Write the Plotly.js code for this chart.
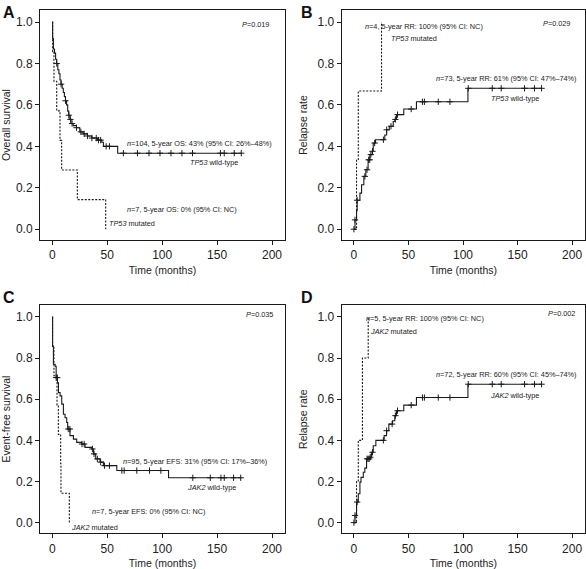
<!DOCTYPE html>
<html>
<head>
<meta charset="utf-8">
<script src="https://cdn.plot.ly/plotly-3.0.1.min.js"></script>
<style>html,body{margin:0;padding:0;background:#fff;}#chart{width:586px;height:569px;}</style>
</head>
<body>
<div id="chart"></div>
<script>
// ---------- DATA ----------
// Panel A: overall survival by TP53
const aWildTime = [0, 0.3, 1, 2, 3, 4, 5, 6, 7, 8, 9, 10, 11, 12, 13, 14, 15, 16, 17, 19, 22, 25, 28, 32, 36, 41, 45, 46.5, 59.5, 172];
const aWildSurv = [1.0, 0.92, 0.87, 0.85, 0.82, 0.80, 0.77, 0.75, 0.72, 0.70, 0.68, 0.66, 0.64, 0.62, 0.60, 0.57, 0.55, 0.53, 0.51, 0.50, 0.49, 0.47, 0.46, 0.45, 0.44, 0.43, 0.42, 0.40, 0.367, 0.367];
const aWildCensor = [4, 8, 12, 15, 16.5, 18, 22, 26, 29, 32, 36, 40, 42, 44, 49, 52, 64.7, 77.5, 88, 98, 108, 118, 127.6, 153, 156.5, 165.6, 172];
const aMutTime = [0, 0.3, 1.5, 4, 7, 8.5, 22.8, 48.6];
const aMutSurv = [1, 0.857, 0.714, 0.571, 0.429, 0.286, 0.143, 0];

// Panel B: relapse rate by TP53
const bWildTime = [0, 1, 2.4, 3, 5.5, 7, 9.1, 10.9, 13, 14.6, 16.8, 17.7, 19.8, 28.3, 30, 32.4, 36, 37.5, 39, 45.7, 57.3, 104.5, 172];
const bWildRate = [0, 0.045, 0.09, 0.14, 0.174, 0.215, 0.255, 0.287, 0.335, 0.36, 0.376, 0.416, 0.432, 0.455, 0.48, 0.497, 0.52, 0.53, 0.553, 0.58, 0.615, 0.68, 0.68];
const bWildCensor = [0, 1, 3, 10, 12, 13.5, 14.5, 15.5, 17, 19, 27, 30, 34, 38, 40, 52.5, 62.8, 64.6, 77.3, 88, 104.8, 126.8, 135, 156.4, 165.5, 172];
const bMutTime = [0, 2.4, 4.0, 25.3];
const bMutRate = [0, 0.333, 0.667, 1.0];

// Panel C: event-free survival by JAK2
const cWildTime = [0, 0.3, 1, 2.6, 3.5, 4.7, 5.6, 7.1, 8.6, 10.1, 11.6, 13.1, 14, 16.1, 19.2, 22.2, 26.8, 29.8, 35.9, 37.4, 39.5, 43.4, 46.5, 58.7, 105.8, 172];
const cWildSurv = [1, 0.858, 0.77, 0.76, 0.705, 0.68, 0.632, 0.616, 0.576, 0.527, 0.51, 0.487, 0.455, 0.423, 0.406, 0.39, 0.382, 0.366, 0.358, 0.334, 0.31, 0.294, 0.277, 0.253, 0.218, 0.218];
const cWildCensor = [3.5, 4.5, 14.5, 16, 27, 29, 36.5, 38, 41, 44, 47.5, 52, 63.3, 65.4, 76.9, 88.5, 98.8, 127.9, 143.8, 153.5, 156.5, 165, 171.5];
const cMutTime = [0, 0.2, 1.5, 4.3, 5.5, 7.6, 7.9, 15.5];
const cMutSurv = [1, 0.857, 0.714, 0.571, 0.429, 0.286, 0.143, 0];

// Panel D: relapse rate by JAK2
const dWildTime = [0, 1, 2.4, 4, 5.5, 6.5, 8.6, 10, 11.6, 14.6, 16, 17.7, 20.1, 27.7, 29.9, 32, 35.4, 37.5, 39, 45.7, 57.3, 104.5, 172];
const dWildRate = [0, 0.035, 0.1, 0.14, 0.197, 0.22, 0.245, 0.265, 0.31, 0.318, 0.342, 0.374, 0.4, 0.423, 0.447, 0.479, 0.495, 0.52, 0.544, 0.571, 0.608, 0.673, 0.673];
const dWildCensor = [0, 1, 3, 12, 13, 14, 15, 17, 27, 30, 35, 38, 40, 52.5, 62.8, 64.6, 77.3, 88, 104.8, 126.8, 135, 156.4, 165.5, 172];
const dMutTime = [0, 2.4, 4.0, 7.8, 13.1];
const dMutRate = [0, 0.2, 0.4, 0.8, 1.0];

const xTickVals = [0, 50, 100, 150, 200];
const yTickVals = [0, 0.2, 0.4, 0.6, 0.8, 1.0];
const yTickText = ['0.0', '0.2', '0.4', '0.6', '0.8', '1.0'];
const yTitles = ['Overall survival', 'Relapse rate', 'Event-free survival', 'Relapse rate'];
const xTitle = 'Time (months)';
const panelLetters = ['A', 'B', 'C', 'D'];
const pValues = ['0.019', '0.029', '0.035', '0.002'];

// ---------- BUILD ----------
const LINE = '#1a1a1a';
const REG = '"Liberation Sans", Arial, sans-serif';

function stepAt(times, vals, t) {
  let v = vals[0];
  for (let i = 0; i < times.length; i++) { if (times[i] <= t) v = vals[i]; }
  return v;
}
function curve(times, vals, ax, dashed) {
  return {x: times, y: vals, xaxis: ax.x, yaxis: ax.y, type: 'scatter', mode: 'lines',
    line: {shape: 'hv', color: LINE, width: 1.1, dash: dashed ? '2px,1.5px' : 'solid'},
    hoverinfo: 'skip', showlegend: false};
}
function censors(cTimes, times, vals, ax) {
  return {x: cTimes, y: cTimes.map(t => stepAt(times, vals, t)), xaxis: ax.x, yaxis: ax.y,
    type: 'scatter', mode: 'markers',
    marker: {symbol: 'cross-thin-open', size: 4.5, color: LINE, line: {color: LINE, width: 1}},
    hoverinfo: 'skip', showlegend: false};
}
const axA = {x: 'x', y: 'y'}, axB = {x: 'x2', y: 'y2'}, axC = {x: 'x3', y: 'y3'}, axD = {x: 'x4', y: 'y4'};
const data = [
  curve(aMutTime, aMutSurv, axA, true), curve(aWildTime, aWildSurv, axA, false), censors(aWildCensor, aWildTime, aWildSurv, axA),
  curve(bMutTime, bMutRate, axB, true), curve(bWildTime, bWildRate, axB, false), censors(bWildCensor, bWildTime, bWildRate, axB),
  curve(cMutTime, cMutSurv, axC, true), curve(cWildTime, cWildSurv, axC, false), censors(cWildCensor, cWildTime, cWildSurv, axC),
  curve(dMutTime, dMutRate, axD, true), curve(dWildTime, dWildRate, axD, false), censors(dWildCensor, dWildTime, dWildRate, axD)
];

const W = 586, H = 569;
const xDomL = [40 / W, 285 / W], xDomR = [341.7 / W, 585 / W];
const yDomT = [1 - 240 / H, 1 - 10 / H], yDomB = [1 - 533.3 / H, 1 - 305 / H];
const xRange = [-11.2, 211.8], yRange = [-0.052, 1.058];

function xax(domain, anchor) {
  return {domain: domain, anchor: anchor, range: xRange, tickvals: xTickVals, ticktext: xTickVals.map(String),
    showline: true, mirror: true, linecolor: LINE, linewidth: 1, ticks: 'outside', ticklen: 4, tickcolor: LINE,
    showgrid: false, zeroline: false, tickfont: {family: REG, size: 12, color: '#222'},
    title: {text: xTitle, font: {family: REG, size: 10.5, color: '#222'}, standoff: 5}};
}
function yax(domain, anchor, title) {
  return {domain: domain, anchor: anchor, range: yRange, tickvals: yTickVals, ticktext: yTickText,
    showline: true, mirror: true, linecolor: LINE, linewidth: 1, ticks: 'outside', ticklen: 4, tickcolor: LINE,
    showgrid: false, zeroline: false, tickfont: {family: REG, size: 12, color: '#222'},
    title: {text: title, font: {family: REG, size: 10.5, color: '#222'}, standoff: 7}};
}

const AF = {family: REG, size: 7.3, color: '#222'};
function ann(xref, yref, x, y, text, xanchor) {
  return {xref: xref, yref: yref, x: x, y: y, text: text, showarrow: false, xanchor: xanchor, yanchor: 'middle', font: AF};
}
const annotations = [
  ann('x', 'y', 199, 0.987, '<i>P</i>=' + pValues[0], 'right'),
  ann('x', 'y', 66.3, 0.412, '<i>n</i>=104, 5-year OS: 43% (95% CI: 26%–48%)', 'left'),
  ann('x', 'y', 171, 0.323, '<i>TP53</i> wild-type', 'right'),
  ann('x', 'y', 66.3, 0.093, '<i>n</i>=7, 5-year OS: 0% (95% CI: NC)', 'left'),
  ann('x', 'y', 49.9, 0.026, '<i>TP53</i> mutated', 'left'),

  ann('x2', 'y2', 200, 0.995, '<i>P</i>=' + pValues[1], 'right'),
  ann('x2', 'y2', 64, 0.979, '<i>n</i>=4, 5-year RR: 100% (95% CI: NC)', 'center'),
  ann('x2', 'y2', 55, 0.919, '<i>TP53</i> mutated', 'center'),
  ann('x2', 'y2', 73.2, 0.726, '<i>n</i>=73, 5-year RR: 61% (95% CI: 47%–74%)', 'left'),
  ann('x2', 'y2', 148, 0.633, '<i>TP53</i> wild-type', 'center'),

  ann('x3', 'y3', 203, 1.012, '<i>P</i>=' + pValues[2], 'right'),
  ann('x3', 'y3', 62.4, 0.298, '<i>n</i>=95, 5-year EFS: 31% (95% CI: 17%–36%)', 'left'),
  ann('x3', 'y3', 168.6, 0.172, '<i>JAK2</i> wild-type', 'right'),
  ann('x3', 'y3', 34.4, 0.056, '<i>n</i>=7, 5-year EFS: 0% (95% CI: NC)', 'left'),
  ann('x3', 'y3', 15.2, -0.024, '<i>JAK2</i> mutated', 'left'),

  ann('x4', 'y4', 204.5, 1.019, '<i>P</i>=' + pValues[3], 'right'),
  ann('x4', 'y4', 9.1, 0.992, '<i>n</i>=5, 5-year RR: 100% (95% CI: NC)', 'left'),
  ann('x4', 'y4', 12.5, 0.927, '<i>JAK2</i> mutated', 'left'),
  ann('x4', 'y4', 73.2, 0.718, '<i>n</i>=72, 5-year RR: 60% (95% CI: 45%–74%)', 'left'),
  ann('x4', 'y4', 122.5, 0.62, '<i>JAK2</i> wild-type', 'left')
];
const letterPos = [[1 / W, 1 - 2 / H], [299 / W, 1 - 2 / H], [1 / W, 1 - 287 / H], [299 / W, 1 - 287 / H]];
panelLetters.forEach((L, i) => {
  annotations.push({xref: 'paper', yref: 'paper', x: letterPos[i][0], y: letterPos[i][1], text: '<b>' + L + '</b>',
    showarrow: false, xanchor: 'left', yanchor: 'top', font: {family: REG, size: 16, color: '#111'}});
});

const layout = {
  width: W, height: H, margin: {l: 0, r: 0, t: 0, b: 0}, paper_bgcolor: '#fff', plot_bgcolor: '#fff',
  showlegend: false,
  xaxis: xax(xDomL, 'y'), yaxis: yax(yDomT, 'x', yTitles[0]),
  xaxis2: xax(xDomR, 'y2'), yaxis2: yax(yDomT, 'x2', yTitles[1]),
  xaxis3: xax(xDomL, 'y3'), yaxis3: yax(yDomB, 'x3', yTitles[2]),
  xaxis4: xax(xDomR, 'y4'), yaxis4: yax(yDomB, 'x4', yTitles[3]),
  annotations: annotations
};
Plotly.newPlot('chart', data, layout, {staticPlot: true, displayModeBar: false});
</script>
</body>
</html>
